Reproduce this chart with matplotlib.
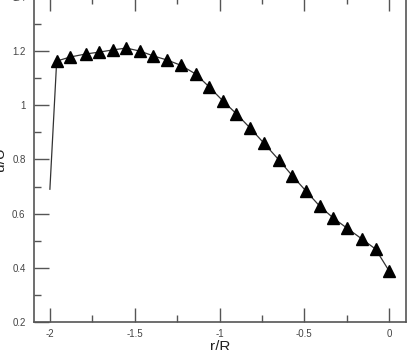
import matplotlib
matplotlib.use("Agg")
import matplotlib.pyplot as plt
from matplotlib.ticker import MultipleLocator, FuncFormatter

# velocity profile u/U vs r/R
r_start = -2.0
u_start = 0.69
r_vals = [-1.96, -1.88, -1.79, -1.71, -1.63, -1.55, -1.47, -1.39, -1.31, -1.23,
          -1.14, -1.06, -0.98, -0.90, -0.82, -0.74, -0.65, -0.57, -0.49, -0.41,
          -0.33, -0.25, -0.16, -0.08, 0.0]
u_vals = [1.163, 1.178, 1.189, 1.196, 1.204, 1.211, 1.200, 1.182, 1.167, 1.148,
          1.115, 1.067, 1.016, 0.968, 0.916, 0.861, 0.798, 0.739, 0.683, 0.628,
          0.584, 0.547, 0.506, 0.469, 0.388]

plt.rcParams['font.family'] = ['Liberation Sans', 'DejaVu Sans']

fig = plt.figure(figsize=(4.09, 3.5), dpi=100)
ax = fig.add_axes([0.083, 0.08, 0.910, 0.929])

ax.plot([r_start] + r_vals, [u_start] + u_vals, color='#333333', lw=0.9)
ax.plot(r_vals, u_vals, ls='none', marker='^', color='black', ms=8)

ax.set_xlim(-2.094, 0.1)
ax.set_ylim(0.2, 1.4)
ax.xaxis.set_major_locator(MultipleLocator(0.5))
ax.xaxis.set_minor_locator(MultipleLocator(0.25))
ax.yaxis.set_major_locator(MultipleLocator(0.2))
ax.yaxis.set_minor_locator(MultipleLocator(0.1))

def fmt(v, pos):
    return '%g' % round(v, 2)

ax.xaxis.set_major_formatter(FuncFormatter(fmt))
ax.yaxis.set_major_formatter(FuncFormatter(fmt))

ax.tick_params(which='both', direction='in', top=True, right=False,
               colors='#555555', labelcolor='#444444', labelsize=7, width=1.0)
ax.tick_params(which='major', length=10)
ax.tick_params(which='minor', length=5)
ax.tick_params(axis='y', which='major', length=11, pad=6)
ax.tick_params(axis='x', which='major', pad=5)

for s in ax.spines.values():
    s.set_color('#555555')
    s.set_linewidth(1.2)

ax.set_xlabel('r/R', fontsize=11, labelpad=1, color='#222222')
ax.set_ylabel('u/U', fontsize=11, color='#222222')
ax.yaxis.set_label_coords(-0.072, 0.5)

fig.savefig('out.png', dpi=100)
